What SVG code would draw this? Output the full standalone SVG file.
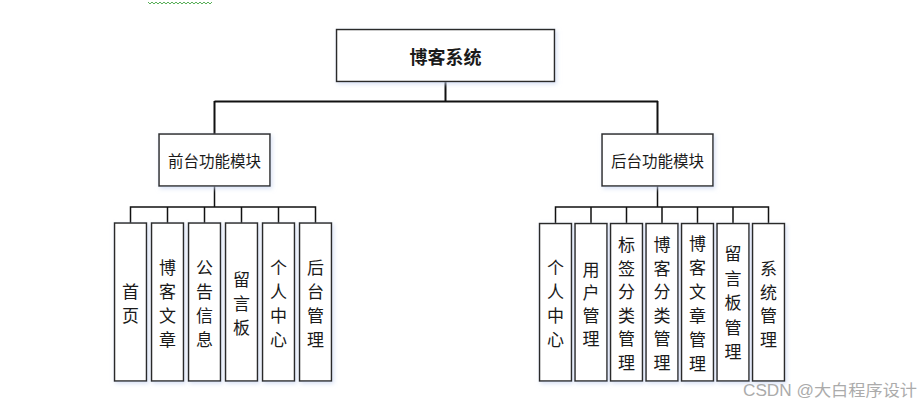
<svg xmlns="http://www.w3.org/2000/svg" width="920" height="406" viewBox="0 0 920 406">
<defs>
<filter id="sh" x="-20%" y="-20%" width="140%" height="140%">
<feDropShadow dx="1.5" dy="2" stdDeviation="2" flood-color="#c8d4f0" flood-opacity="0.7"/>
</filter>
</defs>
<style>
.box{fill:#fff;stroke:#2a2a2a;stroke-width:1.5;filter:url(#sh)}
.ln{fill:none;stroke:#111;stroke-width:1.5}
.t{font-family:"Noto Sans CJK SC","Noto Sans",sans-serif;fill:#1a1a1a;text-anchor:middle;dominant-baseline:central}
.v{font-size:17px}
.m{font-size:15.5px}
.r{font-size:18px;font-weight:bold;font-family:"Noto Sans CJK SC",serif}
.wm{font-family:"Liberation Sans","Noto Sans CJK SC",sans-serif;font-size:16px;fill:#ababab}
</style>
<rect width="920" height="406" fill="#fff"/>
<path d="M148 2 l2 2 l2 -2 l2 2 l2 -2 l2 2 l2 -2 l2 2 l2 -2 l2 2 l2 -2 l2 2 l2 -2 l2 2 l2 -2 l2 2 l2 -2 l2 2 l2 -2 l2 2 l2 -2 l2 2 l2 -2 l2 2 l2 -2 l2 2 l2 -2 l2 2 l2 -2 l2 2 l2 -2 l2 2 l2 -2" fill="none" stroke="#2e9a2e" stroke-width="0.8"/>
<g id="connectors">
<path class="ln" style="stroke-width:2" d="M445.5 82 V101.5"/>
<path class="ln" style="stroke-width:2" d="M214.5 101.5 H658 M214.5 101 V134 M657.5 101 V134"/>
<path class="ln" d="M214.5 186 V207 M130.5 223 V207 H315.5 V223 M167.5 207 V223 M204.5 207 V223 M241.5 207 V223 M278.5 207 V223"/>
<path class="ln" d="M657.5 186 V207 M555.5 223 V207 H768.5 V223 M591 207 V223 M626.5 207 V223 M662 207 V223 M697.5 207 V223 M733 207 V223"/>
</g>
<g id="root"><rect class="box" x="336.5" y="29.5" width="218" height="52"/><text class="t r" x="445.5" y="56">博客系统</text></g>
<g id="front"><rect class="box" x="159" y="134" width="111" height="52"/><text class="t m" x="214.5" y="160">前台功能模块</text></g>
<g id="back"><rect class="box" x="602" y="134" width="111" height="52"/><text class="t m" x="657.5" y="160">后台功能模块</text></g>
<g id="f1"><rect class="box" x="114.5" y="223" width="32" height="158"/><text class="t v" x="130.5"><tspan x="130.5" y="290">首</tspan><tspan x="130.5" y="314">页</tspan></text></g>
<g id="f2"><rect class="box" x="151.5" y="223" width="32" height="158"/><text class="t v" x="167.5"><tspan x="167.5" y="266">博</tspan><tspan x="167.5" y="290">客</tspan><tspan x="167.5" y="314">文</tspan><tspan x="167.5" y="338">章</tspan></text></g>
<g id="f3"><rect class="box" x="188.5" y="223" width="32" height="158"/><text class="t v" x="204.5"><tspan x="204.5" y="266">公</tspan><tspan x="204.5" y="290">告</tspan><tspan x="204.5" y="314">信</tspan><tspan x="204.5" y="338">息</tspan></text></g>
<g id="f4"><rect class="box" x="225.5" y="223" width="32" height="158"/><text class="t v" x="241.5"><tspan x="241.5" y="278">留</tspan><tspan x="241.5" y="302">言</tspan><tspan x="241.5" y="326">板</tspan></text></g>
<g id="f5"><rect class="box" x="262.5" y="223" width="32" height="158"/><text class="t v" x="278.5"><tspan x="278.5" y="266">个</tspan><tspan x="278.5" y="290">人</tspan><tspan x="278.5" y="314">中</tspan><tspan x="278.5" y="338">心</tspan></text></g>
<g id="f6"><rect class="box" x="299.5" y="223" width="32" height="158"/><text class="t v" x="315.5"><tspan x="315.5" y="266">后</tspan><tspan x="315.5" y="290">台</tspan><tspan x="315.5" y="314">管</tspan><tspan x="315.5" y="338">理</tspan></text></g>
<g id="b1"><rect class="box" x="539.5" y="223.5" width="32" height="157.5"/><text class="t v"><tspan x="555.5" y="266">个</tspan><tspan x="555.5" y="290">人</tspan><tspan x="555.5" y="314">中</tspan><tspan x="555.5" y="338">心</tspan></text></g>
<g id="b2"><rect class="box" x="575" y="223.5" width="32" height="157.5"/><text class="t v"><tspan x="591" y="268">用</tspan><tspan x="591" y="291">户</tspan><tspan x="591" y="314">管</tspan><tspan x="591" y="337">理</tspan></text></g>
<g id="b3"><rect class="box" x="610.5" y="223.5" width="32" height="157.5"/><text class="t v"><tspan x="626.5" y="243">标</tspan><tspan x="626.5" y="266.5">签</tspan><tspan x="626.5" y="290">分</tspan><tspan x="626.5" y="313.5">类</tspan><tspan x="626.5" y="337">管</tspan><tspan x="626.5" y="360.5">理</tspan></text></g>
<g id="b4"><rect class="box" x="646" y="223.5" width="32" height="157.5"/><text class="t v"><tspan x="662" y="243">博</tspan><tspan x="662" y="266.5">客</tspan><tspan x="662" y="290">分</tspan><tspan x="662" y="313.5">类</tspan><tspan x="662" y="337">管</tspan><tspan x="662" y="360.5">理</tspan></text></g>
<g id="b5"><rect class="box" x="681.5" y="223.5" width="32" height="157.5"/><text class="t v"><tspan x="697.5" y="242">博</tspan><tspan x="697.5" y="266">客</tspan><tspan x="697.5" y="290">文</tspan><tspan x="697.5" y="314">章</tspan><tspan x="697.5" y="338">管</tspan><tspan x="697.5" y="362">理</tspan></text></g>
<g id="b6"><rect class="box" x="717" y="223.5" width="32" height="157.5"/><text class="t v"><tspan x="733" y="252">留</tspan><tspan x="733" y="276.5">言</tspan><tspan x="733" y="301">板</tspan><tspan x="733" y="325.5">管</tspan><tspan x="733" y="350">理</tspan></text></g>
<g id="b7"><rect class="box" x="752.5" y="223.5" width="32" height="157.5"/><text class="t v"><tspan x="768.5" y="267">系</tspan><tspan x="768.5" y="290.5">统</tspan><tspan x="768.5" y="314">管</tspan><tspan x="768.5" y="337.5">理</tspan></text></g>
<text class="wm" x="743" y="396" textLength="174" lengthAdjust="spacingAndGlyphs">CSDN @大白程序设计</text>
</svg>
